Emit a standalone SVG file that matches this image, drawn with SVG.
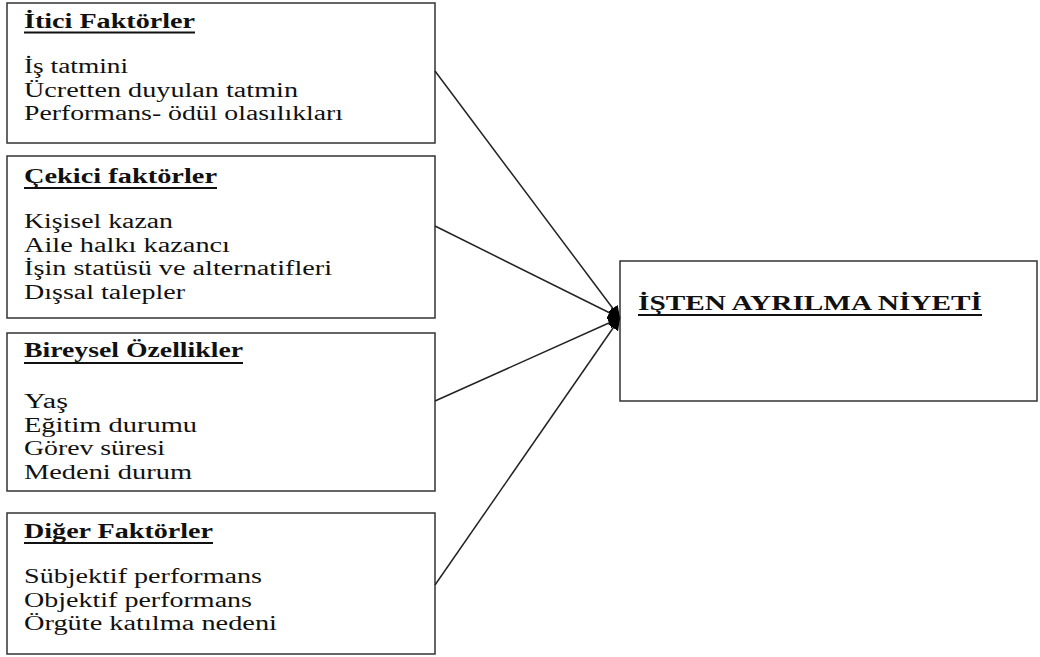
<svg xmlns="http://www.w3.org/2000/svg" width="1040" height="657" viewBox="0 0 1040 657">
<defs>
<style>
.box{fill:#fff;stroke:#333;stroke-width:1.5}
.t{font-family:"Liberation Serif","Times New Roman",serif;font-size:20px;fill:#111}
.h{font-weight:bold}
.ul{stroke:#111;stroke-width:2}
.conn{stroke:#222;stroke-width:1.5;fill:none;marker-end:url(#arr)}
</style>
<marker id="arr" markerUnits="userSpaceOnUse" markerWidth="14" markerHeight="12" refX="12" refY="6" orient="auto">
<path d="M0,0 L12,6 L0,12 Z" fill="#000"/>
</marker>
</defs>
<rect width="1040" height="657" fill="#fff"/>
<g id="itici">
<rect class="box" x="7" y="3" width="428" height="140"/>
<text class="t h" x="24" y="28" textLength="171" lengthAdjust="spacingAndGlyphs">İtici Faktörler</text>
<line class="ul" x1="24" y1="32.5" x2="195" y2="32.5"/>
<text class="t" x="24" y="73" textLength="104" lengthAdjust="spacingAndGlyphs">İş tatmini</text>
<text class="t" x="24" y="96.5" textLength="274" lengthAdjust="spacingAndGlyphs">Ücretten duyulan tatmin</text>
<text class="t" x="24" y="120" textLength="319" lengthAdjust="spacingAndGlyphs">Performans- ödül olasılıkları</text>
</g>
<g id="cekici">
<rect class="box" x="7" y="156" width="428" height="162"/>
<text class="t h" x="24" y="183" textLength="193" lengthAdjust="spacingAndGlyphs">Çekici faktörler</text>
<line class="ul" x1="24" y1="188" x2="217" y2="188"/>
<text class="t" x="24" y="228" textLength="149" lengthAdjust="spacingAndGlyphs">Kişisel kazan</text>
<text class="t" x="24" y="251.5" textLength="206" lengthAdjust="spacingAndGlyphs">Aile halkı kazancı</text>
<text class="t" x="24" y="275" textLength="308" lengthAdjust="spacingAndGlyphs">İşin statüsü ve alternatifleri</text>
<text class="t" x="24" y="298.5" textLength="161" lengthAdjust="spacingAndGlyphs">Dışsal talepler</text>
</g>
<g id="bireysel">
<rect class="box" x="7" y="333" width="428" height="158"/>
<text class="t h" x="24" y="357" textLength="219" lengthAdjust="spacingAndGlyphs">Bireysel Özellikler</text>
<line class="ul" x1="24" y1="363" x2="243" y2="363"/>
<text class="t" x="24" y="408" textLength="44" lengthAdjust="spacingAndGlyphs">Yaş</text>
<text class="t" x="24" y="431.5" textLength="173" lengthAdjust="spacingAndGlyphs">Eğitim durumu</text>
<text class="t" x="24" y="455" textLength="141" lengthAdjust="spacingAndGlyphs">Görev süresi</text>
<text class="t" x="24" y="478.5" textLength="168" lengthAdjust="spacingAndGlyphs">Medeni durum</text>
</g>
<g id="diger">
<rect class="box" x="7" y="513" width="428" height="141"/>
<text class="t h" x="24" y="538" textLength="189" lengthAdjust="spacingAndGlyphs">Diğer Faktörler</text>
<line class="ul" x1="24" y1="543" x2="213" y2="543"/>
<text class="t" x="24" y="583" textLength="238" lengthAdjust="spacingAndGlyphs">Sübjektif performans</text>
<text class="t" x="24" y="606.5" textLength="228" lengthAdjust="spacingAndGlyphs">Objektif performans</text>
<text class="t" x="24" y="630" textLength="253" lengthAdjust="spacingAndGlyphs">Örgüte katılma nedeni</text>
</g>
<g id="niyet">
<rect class="box" x="620" y="261" width="417" height="140"/>
<text class="t h" x="638" y="310" textLength="344" lengthAdjust="spacingAndGlyphs">İŞTEN AYRILMA NİYETİ</text>
<line class="ul" x1="638" y1="315" x2="982" y2="315"/>
</g>
<g id="connectors">
<line class="conn" x1="435" y1="71" x2="620" y2="318"/>
<line class="conn" x1="435" y1="226" x2="620" y2="318"/>
<line class="conn" x1="435" y1="401" x2="620" y2="318"/>
<line class="conn" x1="435" y1="585" x2="620" y2="318"/>
</g>
</svg>
